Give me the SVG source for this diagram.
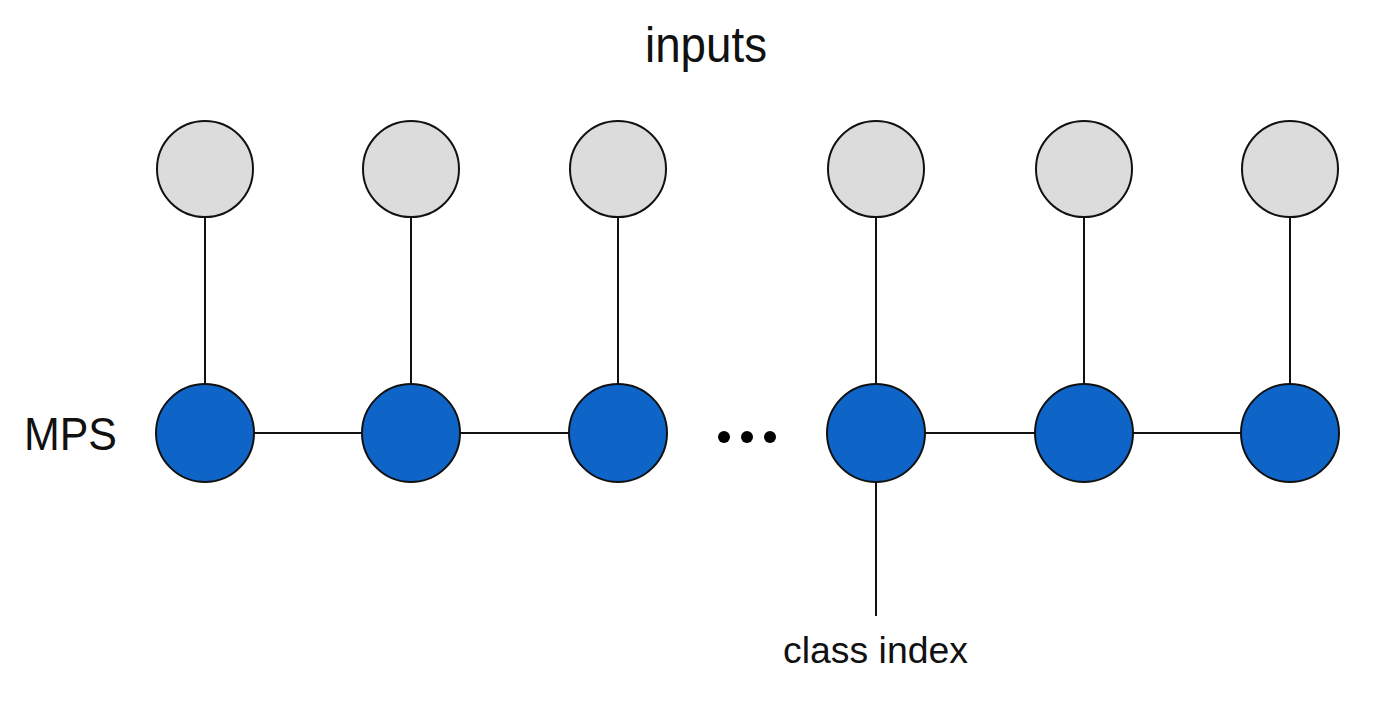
<svg xmlns="http://www.w3.org/2000/svg" width="1384" height="706" viewBox="0 0 1384 706">
<style>
.input{fill:#dcdcdc;stroke:#111;stroke-width:2}
.mps{fill:#0f64c8;stroke:#111;stroke-width:2}
.edge{stroke:#111;stroke-width:2;fill:none}
.lbl{font-family:"Liberation Sans",Arial,sans-serif;fill:#111}
</style>
<rect width="1384" height="706" fill="#fff"/>
<g id="connectors">
<line class="edge" x1="205" y1="217" x2="205" y2="384"/>
<line class="edge" x1="411" y1="217" x2="411" y2="384"/>
<line class="edge" x1="618" y1="217" x2="618" y2="384"/>
<line class="edge" x1="876" y1="217" x2="876" y2="384"/>
<line class="edge" x1="1084" y1="217" x2="1084" y2="384"/>
<line class="edge" x1="1290" y1="217" x2="1290" y2="384"/>
<line class="edge" x1="205" y1="433" x2="411" y2="433"/>
<line class="edge" x1="411" y1="433" x2="618" y2="433"/>
<line class="edge" x1="876" y1="433" x2="1084" y2="433"/>
<line class="edge" x1="1084" y1="433" x2="1290" y2="433"/>
<line class="edge" x1="876" y1="482" x2="876" y2="616"/>
</g>
<g id="input1"><circle class="input" cx="205" cy="169" r="48"/></g>
<g id="input2"><circle class="input" cx="411" cy="169" r="48"/></g>
<g id="input3"><circle class="input" cx="618" cy="169" r="48"/></g>
<g id="input4"><circle class="input" cx="876" cy="169" r="48"/></g>
<g id="input5"><circle class="input" cx="1084" cy="169" r="48"/></g>
<g id="input6"><circle class="input" cx="1290" cy="169" r="48"/></g>
<g id="mps1"><circle class="mps" cx="205" cy="433" r="49"/></g>
<g id="mps2"><circle class="mps" cx="411" cy="433" r="49"/></g>
<g id="mps3"><circle class="mps" cx="618" cy="433" r="49"/></g>
<g id="mps4"><circle class="mps" cx="876" cy="433" r="49"/></g>
<g id="mps5"><circle class="mps" cx="1084" cy="433" r="49"/></g>
<g id="mps6"><circle class="mps" cx="1290" cy="433" r="49"/></g>
<g id="ellipsis" fill="#000">
<circle cx="724" cy="437" r="6"/>
<circle cx="747" cy="437" r="6"/>
<circle cx="770" cy="437" r="6"/>
</g>
<g id="labels">
<text class="lbl" x="645" y="62" font-size="50" textLength="122" lengthAdjust="spacingAndGlyphs">inputs</text>
<text class="lbl" x="24" y="450" font-size="46" textLength="93" lengthAdjust="spacingAndGlyphs">MPS</text>
<text class="lbl" x="783" y="663" font-size="37" textLength="185" lengthAdjust="spacingAndGlyphs">class index</text>
</g>
</svg>
